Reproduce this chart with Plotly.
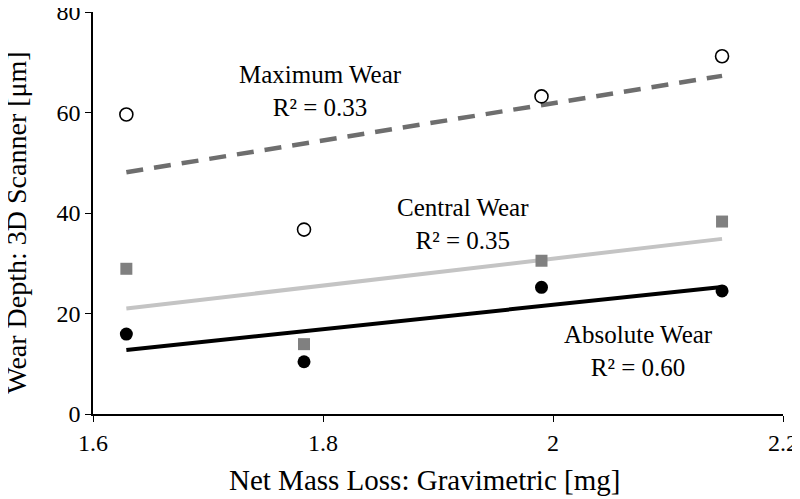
import numpy as np
import plotly.graph_objects as go

mass_loss = [1.629, 1.7835, 1.990, 2.147]
max_wear = [59.6, 36.7, 63.2, 71.2]
central_wear = [28.9, 13.9, 30.5, 38.3]
absolute_wear = [15.9, 10.4, 25.2, 24.5]

x_ticks = [1.6, 1.8, 2.0, 2.2]
x_tick_text = ["1.6", "1.8", "2", "2.2"]
y_ticks = [0, 20, 40, 60, 80]

FONT = "Liberation Serif, Times New Roman, serif"

def trend(xs, ys):
    m, b = np.polyfit(xs, ys, 1)
    xe = [min(xs), max(xs)]
    return xe, [m * v + b for v in xe]

fig = go.Figure()

for ys, color, dash, w in [(max_wear, "#6e6e6e", "17px,11px", 4.5),
                           (central_wear, "#c4c4c4", "solid", 4),
                           (absolute_wear, "#000000", "solid", 4)]:
    tx, ty = trend(mass_loss, ys)
    fig.add_trace(go.Scatter(x=tx, y=ty, mode="lines",
                             line=dict(color=color, width=w, dash=dash),
                             showlegend=False, hoverinfo="skip"))

fig.add_trace(go.Scatter(x=mass_loss, y=max_wear, mode="markers",
                         marker=dict(symbol="circle", size=13, color="white",
                                     line=dict(color="black", width=1.6)),
                         showlegend=False))
fig.add_trace(go.Scatter(x=mass_loss, y=central_wear, mode="markers",
                         marker=dict(symbol="square", size=12, color="#808080",
                                     line=dict(width=0)),
                         showlegend=False))
fig.add_trace(go.Scatter(x=mass_loss, y=absolute_wear, mode="markers",
                         marker=dict(symbol="circle", size=13, color="black",
                                     line=dict(width=0)),
                         showlegend=False))

annos = [
    ("Maximum Wear<br>R² = 0.33", 1.798, 64.2),
    ("Central Wear<br>R² = 0.35", 1.922, 37.8),
    ("Absolute Wear<br>R² = 0.60", 2.074, 12.6),
]
for text, ax, ay in annos:
    fig.add_annotation(x=ax, y=ay, text=text, showarrow=False,
                       font=dict(family=FONT, size=25, color="black"),
                       align="center", xanchor="center", yanchor="middle")

# axis titles
fig.add_annotation(xref="paper", yref="paper", x=0.481, y=-0.165,
                   text="Net Mass Loss: Gravimetric [mg]", showarrow=False,
                   font=dict(family=FONT, size=29, color="black"),
                   xanchor="center", yanchor="middle")
fig.add_annotation(xref="paper", yref="paper", x=-0.112, y=0.475,
                   text="Wear Depth: 3D Scanner [μm]", showarrow=False, textangle=-90,
                   font=dict(family=FONT, size=28, color="black"),
                   xanchor="center", yanchor="middle")

fig.update_layout(
    width=800, height=499,
    margin=dict(l=85, r=25, t=4, b=93, autoexpand=False),
    paper_bgcolor="white", plot_bgcolor="white",
    font=dict(family=FONT, size=24, color="black"),
    xaxis=dict(range=[1.6, 2.2], tickvals=x_ticks, ticktext=x_tick_text,
               showgrid=False, zeroline=False, showline=True, linecolor="black",
               linewidth=1.5, ticks="outside", ticklen=6, tickcolor="black",
               tickfont=dict(size=24), automargin=False, ticklabeloverflow="allow"),
    yaxis=dict(range=[0, 80], tickvals=y_ticks, showgrid=False, zeroline=False,
               showline=True, linecolor="black", linewidth=1.5, ticks="outside",
               ticklen=6, tickcolor="black", tickfont=dict(size=24), automargin=False,
               ticklabeloverflow="allow"),
)

fig.write_html("out.html")
